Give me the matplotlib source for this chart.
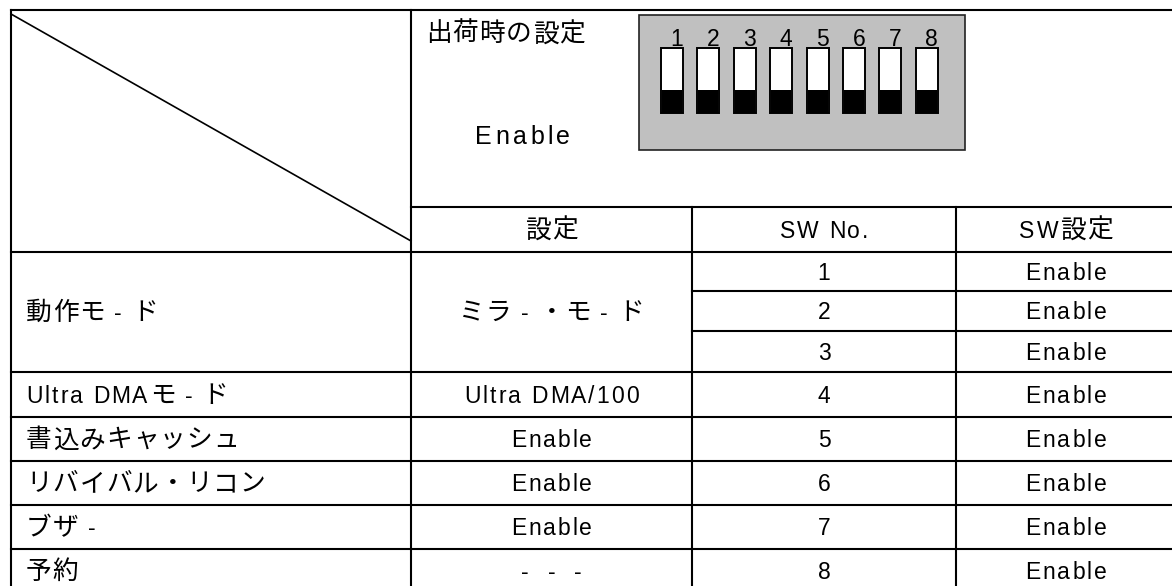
import matplotlib
matplotlib.use("Agg")
import matplotlib.pyplot as plt
from matplotlib.patches import Rectangle
from matplotlib.font_manager import FontProperties, findfont, get_font

# table contents
items = ['動作モ - ド', 'Ultra DMAモ - ド', '書込みキャッシュ', 'リバイバル・リコン', 'ブザ -', '予約']
settings = ['ミラ - ・モ - ド', 'Ultra DMA/100', 'Enable', 'Enable', 'Enable', '-  -  -']
item_rows = [3, 1, 1, 1, 1, 1]          # how many switches each item uses
sw_no = [1, 2, 3, 4, 5, 6, 7, 8]
sw_set = ['Enable'] * 8
sw_down = [True] * 8                    # factory position of each switch
headers = ['設定', 'SW No.', 'SW設定']
factory_label = '出荷時の設定'
factory_value = 'Enable'

DPI = 100
EN = 'Liberation Sans'
JP = 'Noto Sans CJK JP'

# layout in pixels
col_x = [11, 411, 692, 956, 1176]
top, head_mid, head_bot = 10, 207, 252
row_y = [252, 291, 331, 372, 417, 461, 505, 549, 593]


def is_jp(ch):
    return ord(ch) > 0x2000


def advance(ch, size):
    font = get_font(findfont(FontProperties(family=JP if is_jp(ch) else EN)))
    font.set_size(size, 72)
    return font.load_char(ord(ch)).linearHoriAdvance / 65536 * DPI / 72


def tracked(ax, x, cy, s, en=16.5, jp=18.5, track=2.0, ha='left'):
    # the original text is letter-spaced, so place glyph by glyph
    sizes = [jp if is_jp(c) else en for c in s]
    advs = [advance(c, sz) for c, sz in zip(s, sizes)]
    gaps = [1.0 if is_jp(c) else track for c in s]
    total = sum(advs) + sum(gaps[:-1])
    if ha == 'center':
        x -= total / 2
    base = cy + 0.37 * 16 * DPI / 72
    for c, sz, a, g in zip(s, sizes, advs, gaps):
        if c != ' ':
            ax.text(x, base, c, family=JP if is_jp(c) else EN, size=sz,
                    ha='left', va='baseline', color='black')
        x += a + g


fig = plt.figure(figsize=(11.72, 5.86), dpi=DPI)
ax = fig.add_axes([0, 0, 1, 1])
ax.set_xlim(0, 1172)
ax.set_ylim(586, 0)
ax.axis('off')

lw = 1.5
bottom = row_y[-1]
right = col_x[-1]


def hline(y, x0, x1):
    ax.plot([x0, x1], [y, y], color='black', lw=lw, solid_capstyle='projecting')


def vline(x, y0, y1):
    ax.plot([x, x], [y0, y1], color='black', lw=lw, solid_capstyle='projecting')


# grid
hline(top, col_x[0], right)
vline(col_x[0], top, bottom)
vline(col_x[1], top, bottom)
vline(right, top, bottom)
hline(head_mid, col_x[1], right)
hline(head_bot, col_x[0], right)
vline(col_x[2], head_mid, bottom)
vline(col_x[3], head_mid, bottom)

r = 0
for n in item_rows:
    for k in range(1, n):
        hline(row_y[r + k], col_x[2], right)
    r += n
    hline(row_y[r], col_x[0], right)

# corner diagonal
ax.plot([col_x[0], col_x[1]], [top + 4, 241], color='black', lw=1.2)

# header block
tracked(ax, 426, 33, factory_label)
tracked(ax, 475, 135.5, factory_value, en=18, track=3.5)

# dip switch picture
ax.add_patch(Rectangle((639, 15), 326, 135, facecolor='#c0c0c0', edgecolor='#222222', lw=1.2))
for i, (num, down) in enumerate(zip(sw_no, sw_down)):
    cx = 672 + 36.4 * i
    ax.add_patch(Rectangle((cx - 11, 48), 22, 65, facecolor='white', edgecolor='black', lw=1.4))
    if down:
        ax.add_patch(Rectangle((cx - 10, 90), 20, 23, facecolor='black', edgecolor='none'))
    else:
        ax.add_patch(Rectangle((cx - 10, 48), 20, 23, facecolor='black', edgecolor='none'))
    ax.text(cx + 5, 45.5, str(num), family=EN, size=16.5, ha='center', va='baseline')

hc = (head_mid + head_bot) / 2
for j, h in enumerate(headers):
    tracked(ax, (col_x[j + 1] + col_x[j + 2]) / 2, hc, h, ha='center')

# body
r = 0
for name, val, n in zip(items, settings, item_rows):
    cy = (row_y[r] + row_y[r + n]) / 2
    tracked(ax, 26, cy, name)
    tracked(ax, (col_x[1] + col_x[2]) / 2, cy, val, ha='center')
    r += n

for i, (num, st) in enumerate(zip(sw_no, sw_set)):
    cy = (row_y[i] + row_y[i + 1]) / 2
    tracked(ax, (col_x[2] + col_x[3]) / 2, cy, str(num), ha='center')
    tracked(ax, (col_x[3] + col_x[4]) / 2, cy, st, ha='center')

fig.savefig('out.png', dpi=DPI)
